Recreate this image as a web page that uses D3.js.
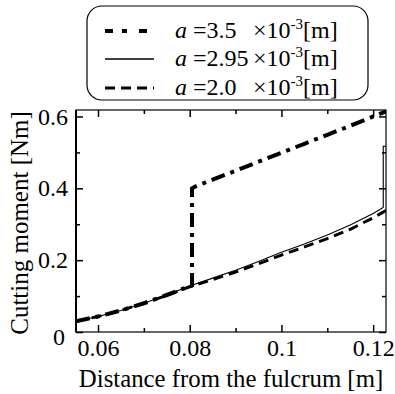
<!DOCTYPE html>
<html>
<head>
<meta charset="utf-8">
<script src="https://cdn.jsdelivr.net/npm/d3@7"></script>
<style>
  body { margin: 0; background: #fff; }
</style>
</head>
<body>
<div id="chart"></div>
<script>
// distance [m] / cutting moment [Nm]
const solidX  = [0.0552, 0.06, 0.065, 0.07, 0.075, 0.08, 0.085, 0.09, 0.095, 0.1, 0.105, 0.11, 0.115, 0.12, 0.1222, 0.1222, 0.1228];
const solidY  = [0.03, 0.043, 0.06, 0.08, 0.103, 0.128, 0.15, 0.172, 0.196, 0.222, 0.245, 0.27, 0.298, 0.33, 0.347, 0.517, 0.517];

const dashX = [0.0552, 0.06, 0.065, 0.07, 0.075, 0.08, 0.085, 0.09, 0.095, 0.1, 0.105, 0.11, 0.115, 0.12, 0.1228];
const dashY = [0.03, 0.043, 0.06, 0.08, 0.102, 0.126, 0.146, 0.167, 0.19, 0.214, 0.237, 0.26, 0.286, 0.318, 0.338];

const dotdashX = [0.0552, 0.06, 0.065, 0.07, 0.075, 0.0805, 0.0805, 0.0812, 0.085, 0.09, 0.095, 0.1, 0.105, 0.11, 0.115, 0.12, 0.1228];
const dotdashY = [0.03, 0.043, 0.06, 0.08, 0.103, 0.13, 0.40, 0.405, 0.424, 0.449, 0.474, 0.499, 0.524, 0.549, 0.574, 0.600, 0.614];

const legendLabels = ['3.5', '2.95', '2.0'];
const xTicks = [0.06, 0.08, 0.1, 0.12];
const xMinor = [0.07, 0.09, 0.11];
const yTicks = [0, 0.2, 0.4, 0.6];
const yMinor = [0.1, 0.3, 0.5];

const W = 395, H = 394;
const margin = { top: 110, right: 9, bottom: 62, left: 76 };
const width = W - margin.left - margin.right;
const height = H - margin.top - margin.bottom;
const FONT = 'Liberation Serif';
const fs = 24;

const svg = d3.select('#chart').append('svg')
  .attr('width', W)
  .attr('height', H)
  .attr('font-family', FONT);

const xScale = d3.scaleLinear().domain([0.0552, 0.1228]).range([0, width]);
const yScale = d3.scaleLinear().domain([0, 0.618]).range([height, 0]);

const chart = svg.append('g')
  .attr('transform', `translate(${margin.left}, ${margin.top})`);

svg.append('defs').append('clipPath').attr('id', 'clip')
  .append('rect').attr('width', width).attr('height', height);

// axes: ticks inward on all four sides
const fmt = d => d === 0 ? '0' : String(d);

chart.append('g').attr('transform', `translate(0, ${height})`)
  .call(d3.axisBottom(xScale).tickValues(xTicks).tickSize(-7).tickFormat(fmt).tickPadding(7));
chart.append('g').attr('transform', `translate(0, ${height})`)
  .call(d3.axisBottom(xScale).tickValues(xMinor).tickSize(-4).tickFormat(''));
chart.append('g')
  .call(d3.axisTop(xScale).tickValues(xTicks).tickSize(-7).tickFormat(''));
chart.append('g')
  .call(d3.axisTop(xScale).tickValues(xMinor).tickSize(-4).tickFormat(''));
const yLeft = chart.append('g')
  .call(d3.axisLeft(yScale).tickValues(yTicks).tickSize(-7).tickFormat(fmt).tickPadding(8));
chart.append('g')
  .call(d3.axisLeft(yScale).tickValues(yMinor).tickSize(-4).tickFormat(''));
chart.append('g').attr('transform', `translate(${width}, 0)`)
  .call(d3.axisRight(yScale).tickValues(yTicks).tickSize(-7).tickFormat(''));
chart.append('g').attr('transform', `translate(${width}, 0)`)
  .call(d3.axisRight(yScale).tickValues(yMinor).tickSize(-4).tickFormat(''));

chart.selectAll('.domain').remove();
chart.selectAll('g').attr('font-family', FONT).attr('font-size', fs);
chart.selectAll('.tick line').attr('stroke', '#000').attr('stroke-width', 1.5);
chart.selectAll('.tick text').attr('fill', '#000');
// the "0" label sits a little lower and further left in the original
yLeft.selectAll('.tick text').filter(d => d === 0).attr('dy', '0.5em').attr('x', -11);

// frame
chart.append('rect')
  .attr('width', width).attr('height', height)
  .attr('fill', 'none').attr('stroke', '#000').attr('stroke-width', 1.2);
chart.append('line')
  .attr('x1', 0).attr('x2', 0).attr('y1', 0).attr('y2', height)
  .attr('stroke', '#000').attr('stroke-width', 2);

// lines
const line = d3.line().x(d => xScale(d[0])).y(d => yScale(d[1]));
const plot = chart.append('g').attr('clip-path', 'url(#clip)');

const series = [
  { xs: dotdashX, ys: dotdashY, w: 4, dash: '14,6,4,6' },
  { xs: solidX, ys: solidY, w: 1.1, dash: null },
  { xs: dashX, ys: dashY, w: 3, dash: '10,6' }
];

series.forEach(s => {
  plot.append('path')
    .datum(s.xs.map((v, i) => [v, s.ys[i]]))
    .attr('d', line)
    .attr('fill', 'none')
    .attr('stroke', '#000')
    .attr('stroke-width', s.w)
    .attr('stroke-dasharray', s.dash);
});

// axis titles
svg.append('text')
  .attr('x', margin.left + width / 2).attr('y', 387)
  .attr('text-anchor', 'middle')
  .attr('font-size', 24.8)
  .text('Distance from the fulcrum [m]');

svg.append('text')
  .attr('transform', `translate(28, ${margin.top + height / 2 + 2}) rotate(-90)`)
  .attr('text-anchor', 'middle')
  .attr('font-size', 25)
  .text('Cutting moment [Nm]');

// legend
const lg = svg.append('g');
lg.append('rect')
  .attr('x', 87).attr('y', 6).attr('width', 281).attr('height', 94)
  .attr('rx', 15).attr('ry', 15)
  .attr('fill', '#fff').attr('stroke', '#000').attr('stroke-width', 1.2);

const rowY = [31, 59, 88];
legendLabels.forEach((lab, i) => {
  const s = series[i];
  lg.append('line')
    .attr('x1', 105).attr('x2', 154)
    .attr('y1', rowY[i]).attr('y2', rowY[i])
    .attr('stroke', '#000')
    .attr('stroke-width', i === 1 ? 1.5 : s.w)
    .attr('stroke-dasharray', i === 0 ? '8,9,5,12' : s.dash);

  const t = lg.append('text')
    .attr('x', 175).attr('y', rowY[i] + 7)
    .attr('font-size', fs);
  t.append('tspan').attr('font-style', 'italic').text('a');
  t.append('tspan').text(' =' + lab);

  const t2 = lg.append('text')
    .attr('x', 253).attr('y', rowY[i] + 7)
    .attr('font-size', fs);
  t2.append('tspan').text('×10');
  t2.append('tspan').attr('dy', -9).attr('font-size', 15).text('-3');
  t2.append('tspan').attr('dy', 9).text('[m]');
});
</script>
</body>
</html>
